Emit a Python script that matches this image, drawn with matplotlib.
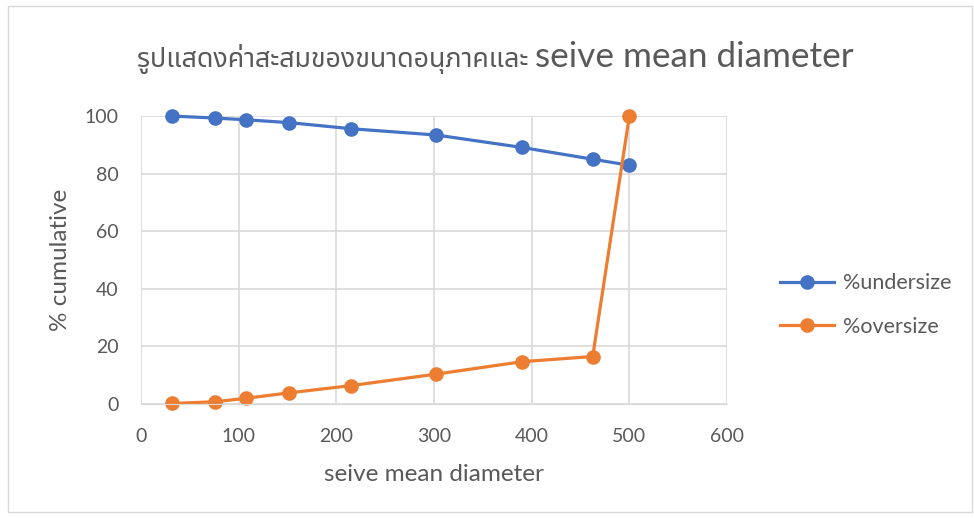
import matplotlib.pyplot as plt
from matplotlib.patches import Rectangle

# data
diameter = [31.5, 76, 107.5, 152, 215, 302.5, 390, 462.5, 500]
undersize = [100, 99.3, 98.7, 97.7, 95.6, 93.4, 89.1, 85.0, 82.9]
oversize = [0.2, 0.8, 2.0, 3.9, 6.4, 10.4, 14.7, 16.5, 100]

x_ticks = [0, 100, 200, 300, 400, 500, 600]
y_ticks = [0, 20, 40, 60, 80, 100]

title_thai = 'รูปแสดงค่าสะสมของขนาดอนุภาคและ '
title_eng = 'seive mean diameter'

BLUE = '#4472C4'
ORANGE = '#ED7D31'
TEXT = '#595959'
GRID = '#D9D9D9'

plt.rcParams['font.family'] = ['Lato', 'DejaVu Sans']

fig = plt.figure(figsize=(9.74, 5.18), dpi=100)
fig.patches.append(Rectangle((0.008, 0.012), 0.99, 0.976, transform=fig.transFigure,
                             fill=False, edgecolor=GRID, linewidth=1))
ax = fig.add_axes([0.1448, 0.22, 0.6016, 0.556])

ax.plot(diameter, undersize, color=BLUE, linewidth=2.3, marker='o', markersize=9.5,
        label='%undersize', clip_on=False)
ax.plot(diameter, oversize, color=ORANGE, linewidth=2.3, marker='o', markersize=9.5,
        label='%oversize', clip_on=False)

ax.set_xlim(0, 600)
ax.set_ylim(0, 100)
ax.set_xticks(x_ticks)
ax.set_yticks(y_ticks)
ax.grid(True, color=GRID, linewidth=1.2)
ax.set_axisbelow(True)
for s in ['top', 'right', 'left']:
    ax.spines[s].set_visible(False)
ax.spines['bottom'].set_color(GRID)
ax.tick_params(length=0, labelsize=14, colors=TEXT)
ax.tick_params(axis='y', pad=16)
ax.tick_params(axis='x', pad=17)
ax.set_xlabel('seive mean diameter', fontsize=17.5, color=TEXT, labelpad=14)
ax.set_ylabel('% cumulative', fontsize=17.5, color=TEXT, labelpad=10)

# title: Thai part then English part on the same baseline
t1 = fig.text(137 / 974, 1 - 67 / 518, title_thai, fontsize=19.3, color=TEXT,
              family=['Noto Sans Thai', 'DejaVu Sans'], ha='left', va='baseline')
renderer = fig.canvas.get_renderer()
bb = t1.get_window_extent(renderer)
fig.text(bb.x1 / fig.bbox.width, 1 - 67 / 518, title_eng, fontsize=25.3, color=TEXT,
         ha='left', va='baseline')

ax.legend(loc='center left', bbox_to_anchor=(1.058, 0.344), frameon=False, fontsize=15.5,
          labelcolor=TEXT, handlelength=2.5, handletextpad=0.4, labelspacing=1.1)

fig.savefig('out.png', dpi=100)
